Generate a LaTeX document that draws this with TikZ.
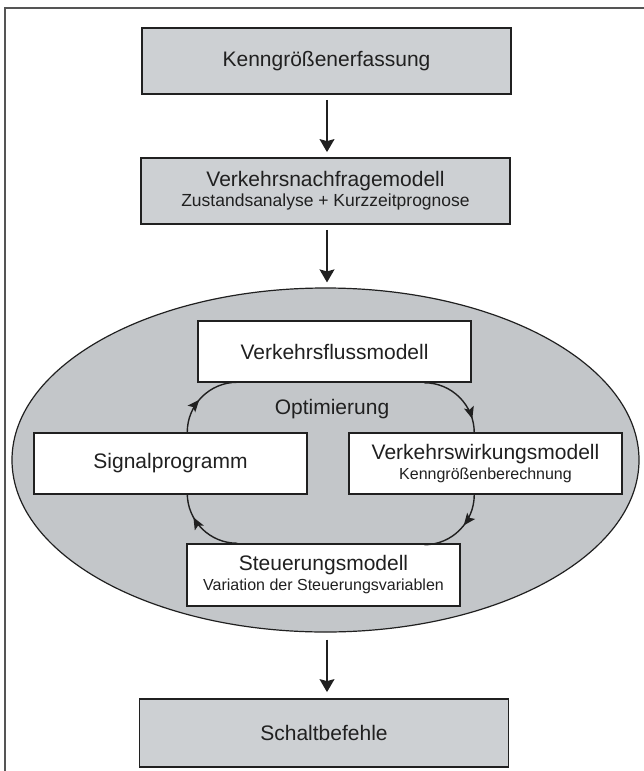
\documentclass[tikz,border=0pt]{standalone}
\usepackage{fontspec}
\setmainfont{Liberation Sans}
\usetikzlibrary{arrows.meta,decorations.markings,shapes.geometric,calc}
\definecolor{boxgrey}{HTML}{CDD0D3}
\definecolor{ellgrey}{HTML}{C3C6C9}
\definecolor{ink}{HTML}{202020}
\definecolor{framegrey}{HTML}{555555}
\newcommand{\mainf}{\fontsize{21}{20}\selectfont}
\newcommand{\subf}{\fontsize{17.5}{20}\selectfont}
\newcommand{\subsf}{\fontsize{16}{19}\selectfont}
\begin{document}
\begin{tikzpicture}[x=1pt,y=-1pt,
  greybox/.style={draw=ink,line width=1.8pt,fill=boxgrey,minimum width=369pt,minimum height=66pt,inner sep=0pt,align=center,font=\mainf,text=ink},
  whitebox/.style={draw=ink,line width=1.5pt,fill=white,minimum width=273pt,minimum height=61pt,inner sep=0pt,align=center,font=\mainf,text=ink},
  mainarr/.style={draw=ink,line width=1.3pt,-{Stealth[length=13pt,width=15pt,inset=2pt]}},
  looparr/.style={draw=ink,line width=1.4pt,postaction={decorate}},
  markat/.style={decoration={markings,mark=at position #1 with {\arrow{Stealth[length=12pt,width=10pt,inset=2.5pt]}}}}
]
\useasboundingbox (0,0) rectangle (644,771);
% frame (top and left only)
\draw[framegrey,line width=1.2pt] (5,771) -- (5,8) -- (644,8);

\node[greybox] (kenn) at (326.5,61) {Kenngrößenerfassung};
\node[greybox] (nach) at (325.5,191) {Verkehrsnachfragemodell\\{\subf Zustandsanalyse + Kurzzeitprognose}};

\node[ellipse,draw=ink,line width=1.2pt,fill=ellgrey,minimum width=627pt,minimum height=344pt,inner sep=0pt] (ell) at (325.5,460) {};

\node[whitebox] (fluss) at (334.5,351.5) {Verkehrsflussmodell};
\node[whitebox] (sig) at (170.5,463.5) {Signalprogramm};
\node[whitebox] (wirk) at (485.5,463.5) {Verkehrswirkungsmodell\\{\subsf Kenngrößenberechnung}};
\node[whitebox,minimum height=62pt] (steu) at (323.5,575) {Steuerungsmodell\\{\subsf Variation der Steuerungsvariablen}};

\node[font=\mainf,text=ink] (opt) at (332,409) {Optimierung};

\node[greybox,minimum height=68pt] (schalt) at (324,733) {Schaltbefehle};

% straight arrows
\draw[mainarr] ($(kenn.south -| 327,0)+(0,5)$) -- ($(nach.north -| 327,0)+(0,-5)$);
\draw[mainarr] ($(nach.south -| 327,0)+(0,5)$) -- ($(ell.north -| 327,0)+(0,-5)$);
\draw[mainarr] ($(ell.south -| 327,0)+(0,7)$) -- ($(schalt.north -| 327,0)+(0,-6)$);

% optimisation loop
\draw[looparr,markat=0.45] (sig.north west) ++(154,0) arc[start angle=180,end angle=270,radius=50];
\draw[looparr,markat=0.82] (fluss.south west) ++(227,0) arc[start angle=270,end angle=360,radius=50];
\draw[looparr,markat=0.42] (wirk.south west) ++(126,0) arc[start angle=0,end angle=90,radius=50];
\draw[looparr,markat=0.68] (steu.north west) ++(51,0) arc[start angle=90,end angle=180,radius=50];
\end{tikzpicture}
\end{document}
